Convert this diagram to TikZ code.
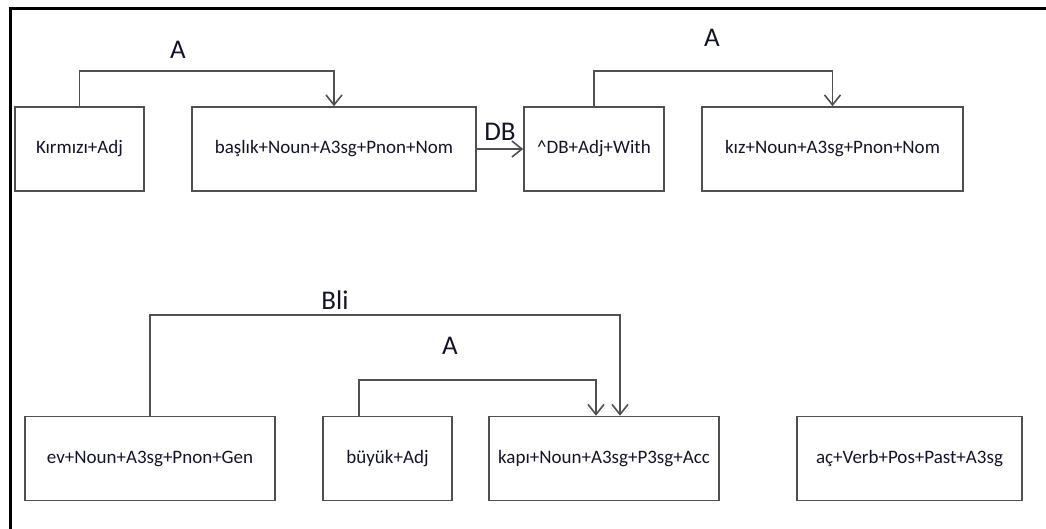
\documentclass[tikz,border=0pt]{standalone}
\usepackage{fontspec}
\setmainfont{Carlito}
\usepackage{tikz}
\usetikzlibrary{arrows.meta}
\definecolor{edgegray}{RGB}{80,80,80}
\definecolor{textdark}{RGB}{20,20,40}
\tikzstyle{morph} = [rectangle, draw=edgegray, line width=1.6pt, text=textdark,
minimum height=84pt, inner sep=0pt, font=\fontsize{19}{22}\selectfont]
\tikzstyle{rel} = [inner sep=0pt, text=textdark, font=\fontsize{27}{30}\selectfont]
\tikzstyle{line} = [draw=edgegray, line width=1.6pt, -{Straight Barb[length=10pt,width=16pt,line width=1.6pt]}]

\begin{document}
\begin{tikzpicture}[x=1pt, y=-1pt]
	\useasboundingbox (0,0) rectangle (1046,529);
	% frame
	\draw [line width=3pt] (10,529) -- (10,9) -- (1046,9);
	% Place nodes
	\node [morph, minimum width=129pt] (kirmizi) at (79.5,149) {Kırmızı+Adj};
	\node [morph, minimum width=284pt] (baslik) at (334,149) {başlık+Noun+A3sg+Pnon+Nom};
	\node [morph, minimum width=140pt] (db) at (594,149) {\^{}DB+Adj+With};
	\node [morph, minimum width=261pt] (kiz) at (832.5,149) {kız+Noun+A3sg+Pnon+Nom};
	%
	\node [morph, minimum width=250pt] (ev) at (150,458.5) {ev+Noun+A3sg+Pnon+Gen};
	\node [morph, minimum width=129pt] (buyuk) at (387.5,458.5) {büyük+Adj};
	\node [morph, minimum width=230pt] (kapi) at (604,458.5) {kapı+Noun+A3sg+P3sg+Acc};
	\node [morph, minimum width=225pt] (ac) at (909.5,458.5) {aç+Verb+Pos+Past+A3sg};
	%
	\node [rel] (relA) at (178,50) {A};
	\node [rel] (relDB) at (500,132) {DB};
	\node [rel] (relB) at (712,38) {A};
	\node [rel] (relBli) at (335,300) {Bli};
	\node [rel] (relC) at (450,346) {A};
	%
	\path [line] (kirmizi.north) -- ++(0,-35) -| (baslik.north);
	\path [line] (baslik.east) -- (db.west);
	\path [line] (db.north) -- ++(0,-35) -| (kiz.north);
	\path [line] (ev.north) -- ++(0,-101) -| ([xshift=16pt]kapi.north);
	\path [line] ([xshift=-28.5pt]buyuk.north) -- ++(0,-36) -| ([xshift=-8pt]kapi.north);
\end{tikzpicture}
\end{document}
